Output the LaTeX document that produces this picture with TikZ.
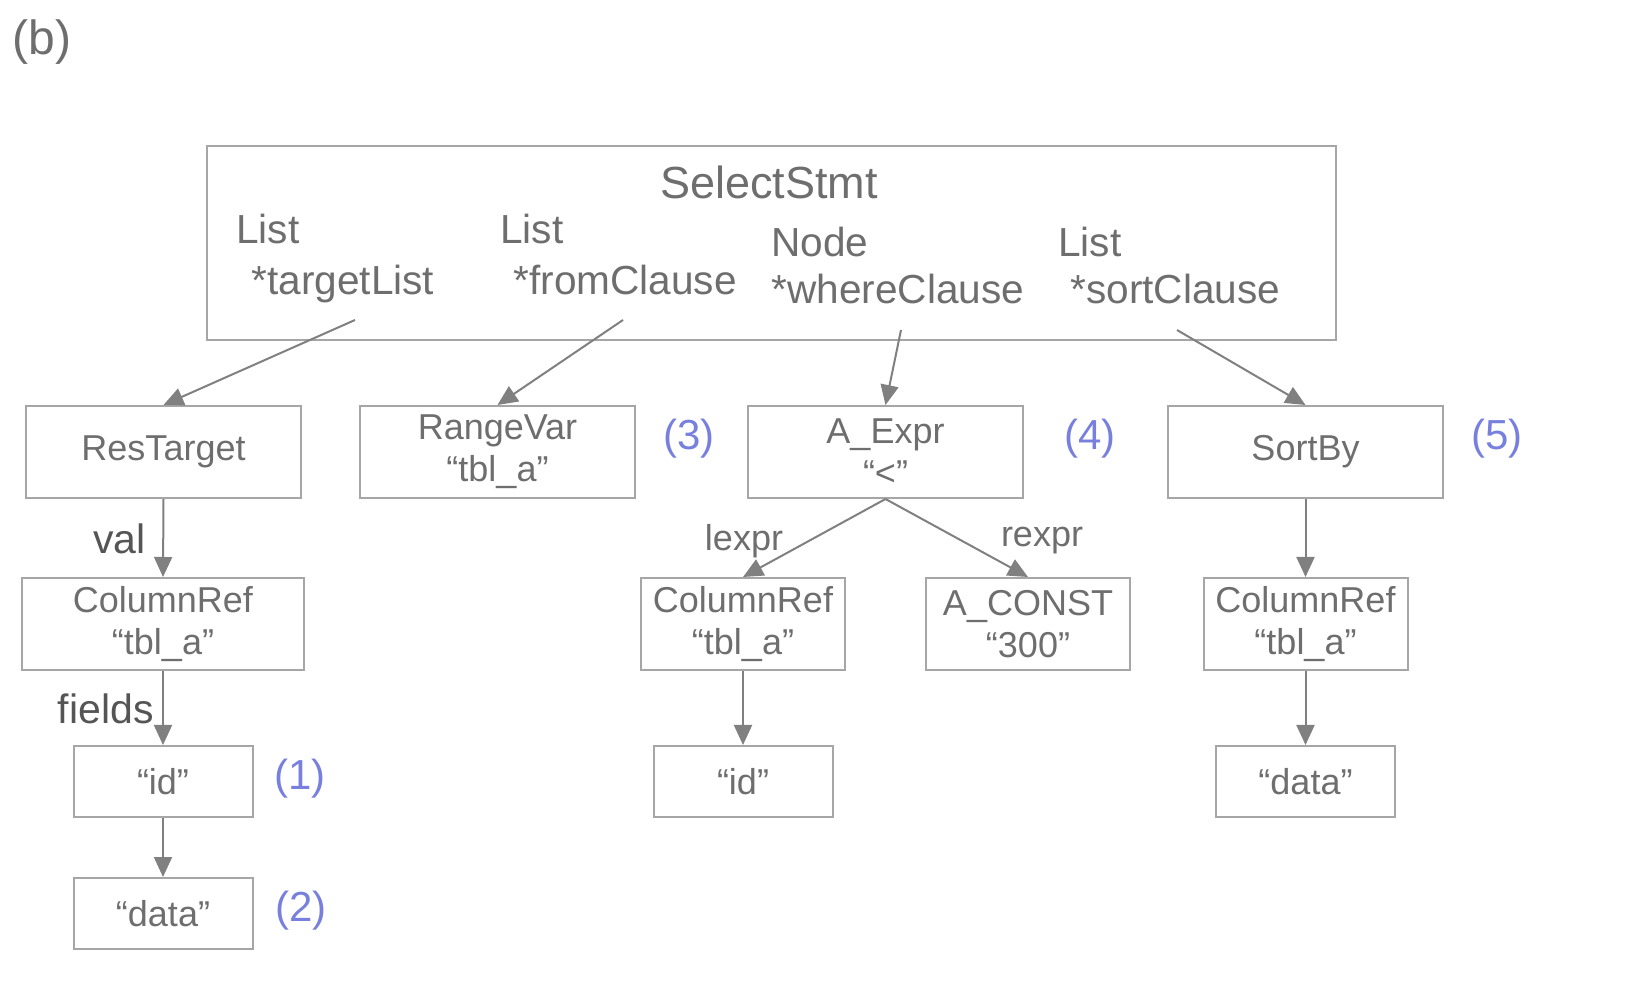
\documentclass[tikz,border=0pt]{standalone}
\usepackage{fontspec}
\setmainfont{Liberation Sans}
\usetikzlibrary{arrows.meta}
\definecolor{txtgray}{HTML}{6E6E6E}
\definecolor{lblgray}{HTML}{555555}
\definecolor{boxgray}{HTML}{A6A6A6}
\definecolor{arrgray}{HTML}{808080}
\definecolor{numblue}{HTML}{7880DE}
\tikzset{
  astbox/.style={draw=boxgray, line width=1pt, text=txtgray, align=center, inner sep=0pt,
    font=\fontsize{18}{21}\selectfont},
  wide/.style={astbox, minimum width=137.5pt, minimum height=46pt},
  mid/.style={astbox, minimum width=102pt, minimum height=46pt},
  leaf/.style={astbox, minimum width=89.5pt, minimum height=35.5pt},
  field/.style={text=txtgray, inner sep=0pt, anchor=base west, font=\fontsize{20.3}{25}\selectfont},
  edgelbl/.style={text=lblgray, inner sep=0pt, anchor=base east, font=\fontsize{20.5}{24}\selectfont},
  sidelbl/.style={text=txtgray, inner sep=0pt, font=\fontsize{18}{22}\selectfont},
  stepnum/.style={text=numblue, inner sep=0pt, font=\fontsize{21}{25}\selectfont},
  edge/.style={draw=arrgray, line width=1pt, -{Triangle[length=10pt,width=9pt]}}
}
\begin{document}
\begin{tikzpicture}[x=0.5pt, y=-0.5pt]
\useasboundingbox (0,0) rectangle (1639,988);
\node[text=txtgray, inner sep=0pt, font=\fontsize{24}{28}\selectfont] (tag) at (42,42) {(b)};

% select statement with its fields
\node[astbox, minimum width=564.5pt, minimum height=97pt] (select) at (771.5,243) {};
\node[text=txtgray, inner sep=0pt, anchor=base, font=\fontsize{22.5}{27}\selectfont] (selname) at (769,198.6) {SelectStmt};
\node[field] (tgttype) at (236,243.5) {List};
\node[field] (tgt) at (251,295) {*targetList};
\node[field] (frmtype) at (500,243.5) {List};
\node[field] (frm) at (513,295) {*fromClause};
\node[field] (whrtype) at (771,257) {Node};
\node[field] (whr) at (771,304) {*whereClause};
\node[field] (srttype) at (1058,257) {List};
\node[field] (srt) at (1070,304) {*sortClause};
\coordinate (tgtout) at (355,320);
\coordinate (frmout) at (623,320);
\coordinate (whrout) at (901,330);
\coordinate (srtout) at (1177,330);

% first row
\node[wide] (restarget) at (163.5,452) {ResTarget};
\node[wide] (rangevar) at (497.5,452) {RangeVar\\“tbl\_a”};
\node[wide] (aexpr) at (885.5,452) {A\_Expr\\“<”};
\node[wide] (sortby) at (1305.5,452) {SortBy};
\node[stepnum] (n3) at (689,439) {(3)};
\node[stepnum] (n4) at (1090,439) {(4)};
\node[stepnum] (n5) at (1497,439) {(5)};

% second row
\node[astbox, minimum width=141pt, minimum height=46pt] (colref) at (163,624) {ColumnRef\\“tbl\_a”};
\node[mid] (colrefw) at (743,624) {ColumnRef\\“tbl\_a”};
\node[mid] (aconst) at (1028,624) {A\_CONST\\“300”};
\node[mid] (colrefs) at (1305.5,624) {ColumnRef\\“tbl\_a”};

% leaves
\node[leaf] (idt) at (163,781.5) {“id”};
\node[leaf] (datat) at (163,913.5) {“data”};
\node[leaf] (idw) at (743,781.5) {“id”};
\node[leaf] (datas) at (1305.5,781.5) {“data”};
\node[stepnum] (n1) at (300,779) {(1)};
\node[stepnum] (n2) at (301,911) {(2)};

% edge labels
\node[edgelbl] (val) at (146,554) {val};
\node[edgelbl] (fields) at (154,724) {fields};
\node[sidelbl] (lexpr) at (744,541) {lexpr};
\node[sidelbl] (rexpr) at (1042,541) {rexpr};

\draw[edge] (tgtout) -- (restarget.north);
\draw[edge] (frmout) -- (rangevar.north);
\draw[edge] (whrout) -- (aexpr.north);
\draw[edge] (srtout) -- (sortby.north);
\draw[edge] (restarget.south) -- (colref.north);
\draw[edge] (colref.south) -- (idt.north);
\draw[edge] (idt.south) -- (datat.north);
\draw[edge] (aexpr.south) -- (colrefw.north);
\draw[edge] (aexpr.south) -- (aconst.north);
\draw[edge] (colrefw.south) -- (idw.north);
\draw[edge] (sortby.south) -- (colrefs.north);
\draw[edge] (colrefs.south) -- (datas.north);
\end{tikzpicture}
\end{document}
